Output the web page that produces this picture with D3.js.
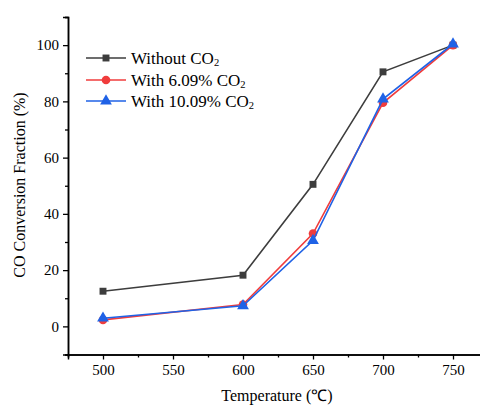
<!DOCTYPE html>
<html><head><meta charset="utf-8">
<script src="https://cdn.jsdelivr.net/npm/d3@7"></script>
<style>body{margin:0;background:#fff;}svg{display:block;} text{font-family:"Liberation Serif","Times New Roman",serif !important;}</style>
</head><body>
<script>
const temps = [500, 600, 650, 700, 750];
const without = [12.5, 18.2, 50.5, 90.5, 100.0];
const with609 = [2.3, 7.8, 33.0, 79.5, 100.0];
const with1009 = [2.9, 7.3, 30.5, 80.8, 100.4];
const seriesNames = ["Without CO", "With 6.09% CO", "With 10.09% CO"];
const xTicks = [500, 550, 600, 650, 700, 750];
const yTicks = [0, 20, 40, 60, 80, 100];

const W = 480, H = 406;
const svg = d3.select("body").append("svg").attr("width", W).attr("height", H);
const font = "Liberation Serif";

const x = d3.scaleLinear().domain([475, 775]).range([68, 488]);
const y = d3.scaleLinear().domain([-10, 110]).range([354.5, 17]);

const xAxis = d3.axisBottom(x).tickValues(xTicks).tickSize(5).tickPadding(5).tickFormat(d3.format("d"));
const xMinor = d3.axisBottom(x).tickValues(d3.range(475, 776, 50)).tickSize(3).tickFormat("");
const yAxis = d3.axisLeft(y).tickValues(yTicks).tickSize(5).tickPadding(4).tickFormat(d3.format("d"));
const yMinor = d3.axisLeft(y).tickValues(d3.range(-10, 111, 20)).tickSize(3).tickFormat("");

function style(g){
  g.attr("font-family", font);
  g.selectAll("path.domain").attr("stroke","#000").attr("stroke-width",1.5);
  g.selectAll(".tick line").attr("stroke","#000").attr("stroke-width",1.3);
  g.selectAll(".tick text").attr("font-size",15).attr("fill","#000");
}
svg.append("g").attr("transform","translate(0,354.5)").call(xMinor).call(style);
svg.append("g").attr("transform","translate(0,354.5)").call(xAxis).call(style);
svg.append("g").attr("transform","translate(68,0)").call(yMinor).call(style);
svg.append("g").attr("transform","translate(68,0)").call(yAxis).call(style);

svg.append("text").attr("x",277).attr("y",401).attr("text-anchor","middle")
  .attr("font-size",16).text("Temperature (℃)");
svg.append("text").attr("transform","translate(25,185) rotate(-90)").attr("text-anchor","middle")
  .attr("font-size",16).text("CO Conversion Fraction (%)");

const series = [
  {name: seriesNames[0], vals: without, color: "#3d3d3d", sym: d3.symbolSquare, size: 48},
  {name: seriesNames[1], vals: with609, color: "#f03c3c", sym: d3.symbolCircle, size: 58},
  {name: seriesNames[2], vals: with1009, color: "#1f62e6", sym: d3.symbolTriangle, size: 60}
];
const line = d3.line().x((d,i)=>x(temps[i])).y(d=>y(d));
series.forEach(s=>{
  svg.append("path").datum(s.vals).attr("d",line).attr("fill","none")
    .attr("stroke",s.color).attr("stroke-width",1.6);
  svg.append("g").selectAll("path").data(s.vals).join("path")
    .attr("transform",(d,i)=>`translate(${x(temps[i])},${y(d)})`)
    .attr("d",d3.symbol().type(s.sym).size(s.size)).attr("fill",s.color);
});

const ly = [58, 80, 101];
series.forEach((s,i)=>{
  const g = svg.append("g").attr("transform",`translate(0,${ly[i]})`);
  g.append("line").attr("x1",86).attr("x2",126).attr("stroke",s.color).attr("stroke-width",1.6);
  g.append("path").attr("transform","translate(106,0)").attr("d",d3.symbol().type(s.sym).size(s.size)).attr("fill",s.color);
  const t = g.append("text").attr("x",131).attr("y",5.5).attr("font-size",17).attr("fill","#000");
  t.append("tspan").text(s.name);
  t.append("tspan").attr("font-size",10.5).attr("dy",2).text("2");
});
</script>
</body></html>
